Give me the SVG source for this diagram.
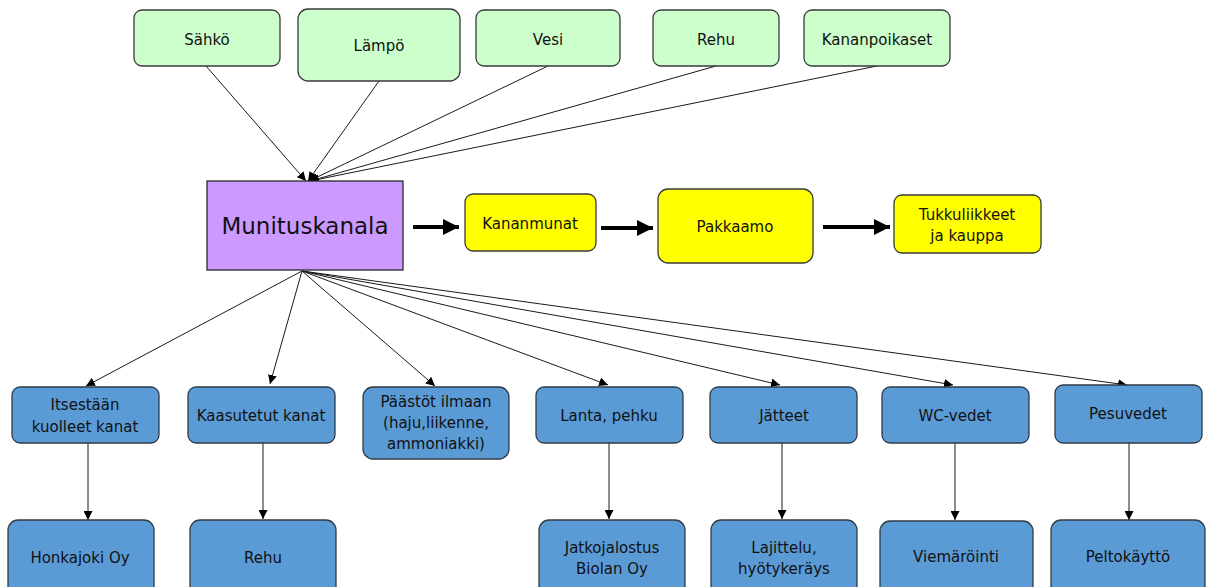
<svg xmlns="http://www.w3.org/2000/svg" width="1206" height="587" viewBox="0 0 1206 587">
<defs>
<style>
.g{fill:#ccffcc;stroke:#3a3a3a;stroke-width:1.3}
.y{fill:#ffff00;stroke:#3a3a3a;stroke-width:1.3}
.b{fill:#5b9bd5;stroke:#2f3b47;stroke-width:1.3}
.p{fill:#cc99ff;stroke:#2a2a2a;stroke-width:1.3}
text{font-family:"DejaVu Sans","Liberation Sans",sans-serif;font-size:15px;fill:#111;text-anchor:middle}
.big{font-size:23px}
.c{stroke:#1a1a1a;stroke-width:1;fill:none;marker-end:url(#ah)}
.t{stroke:#000;stroke-width:4;fill:none;marker-end:url(#ahb)}
</style>
<marker id="ah" viewBox="0 0 10 10" refX="10" refY="5" markerWidth="9" markerHeight="9" markerUnits="userSpaceOnUse" orient="auto"><path d="M0,0 L10,5 L0,10 z" fill="#000"/></marker>
<marker id="ahb" viewBox="0 0 10 10" refX="10" refY="5" markerWidth="4" markerHeight="4" orient="auto"><path d="M0,0 L10,5 L0,10 z" fill="#000"/></marker>
</defs>
<g id="connectors">
<line class="c" x1="206" y1="66" x2="306" y2="181"/>
<line class="c" x1="379" y1="81" x2="308" y2="181"/>
<line class="c" x1="548" y1="66" x2="309" y2="181"/>
<line class="c" x1="716" y1="66" x2="310" y2="181"/>
<line class="c" x1="877" y1="66" x2="310" y2="181"/>
<line class="t" x1="413" y1="227" x2="459" y2="227"/>
<line class="t" x1="601" y1="228" x2="653" y2="228"/>
<line class="t" x1="823" y1="227" x2="890" y2="227"/>
<line class="c" x1="302" y1="271" x2="86" y2="386"/>
<line class="c" x1="302" y1="271" x2="270" y2="384"/>
<line class="c" x1="302" y1="271" x2="435" y2="386"/>
<line class="c" x1="302" y1="271" x2="608" y2="385"/>
<line class="c" x1="302" y1="271" x2="780" y2="385"/>
<line class="c" x1="302" y1="271" x2="953" y2="385"/>
<line class="c" x1="302" y1="271" x2="1127" y2="385"/>
<line class="c" x1="88" y1="443" x2="88" y2="520"/>
<line class="c" x1="263" y1="443" x2="263" y2="519"/>
<line class="c" x1="609" y1="443" x2="609" y2="519"/>
<line class="c" x1="782" y1="443" x2="782" y2="519"/>
<line class="c" x1="955" y1="443" x2="955" y2="520"/>
<line class="c" x1="1129" y1="443" x2="1129" y2="520"/>
</g>
<g id="sahko"><rect class="g" x="134" y="10" width="146" height="56" rx="8"/><text x="207" y="45">Sähkö</text></g>
<g id="lampo"><rect class="g" x="298" y="9" width="162" height="72" rx="10"/><text x="379" y="51">Lämpö</text></g>
<g id="vesi"><rect class="g" x="476" y="10" width="144" height="56" rx="8"/><text x="548" y="45">Vesi</text></g>
<g id="rehu-in"><rect class="g" x="653" y="10" width="126" height="56" rx="8"/><text x="716" y="45">Rehu</text></g>
<g id="kananpoikaset"><rect class="g" x="804" y="10" width="146" height="56" rx="8"/><text x="877" y="45">Kananpoikaset</text></g>
<g id="munituskanala"><rect class="p" x="207" y="181" width="196" height="89"/><text class="big" x="305" y="234">Munituskanala</text></g>
<g id="kananmunat"><rect class="y" x="465" y="194" width="131" height="57" rx="8"/><text x="530" y="229">Kananmunat</text></g>
<g id="pakkaamo"><rect class="y" x="658" y="189" width="155" height="74" rx="10"/><text x="735" y="232">Pakkaamo</text></g>
<g id="tukku"><rect class="y" x="894" y="195" width="147" height="58" rx="8"/><text x="967" y="220">Tukkuliikkeet</text><text x="967" y="241">ja kauppa</text></g>
<g id="itsestaan"><rect class="b" x="12" y="387" width="147" height="56" rx="8"/><text x="85" y="410">Itsestään</text><text x="85" y="432">kuolleet kanat</text></g>
<g id="kaasutetut"><rect class="b" x="188" y="387" width="147" height="56" rx="8"/><text x="261" y="421">Kaasutetut kanat</text></g>
<g id="paastot"><rect class="b" x="363" y="387" width="146" height="72" rx="10"/><text x="436" y="407">Päästöt ilmaan</text><text x="436" y="428">(haju,liikenne,</text><text x="436" y="449">ammoniakki)</text></g>
<g id="lanta"><rect class="b" x="536" y="387" width="147" height="56" rx="8"/><text x="609" y="421">Lanta, pehku</text></g>
<g id="jatteet"><rect class="b" x="710" y="387" width="147" height="56" rx="8"/><text x="784" y="421">Jätteet</text></g>
<g id="wc"><rect class="b" x="882" y="387" width="147" height="56" rx="8"/><text x="955" y="421">WC-vedet</text></g>
<g id="pesuvedet"><rect class="b" x="1055" y="385" width="147" height="58" rx="8"/><text x="1128" y="419">Pesuvedet</text></g>
<g id="honkajoki"><rect class="b" x="8" y="520" width="146" height="80" rx="10"/><text x="80" y="563">Honkajoki Oy</text></g>
<g id="rehu-out"><rect class="b" x="190" y="520" width="146" height="80" rx="10"/><text x="263" y="563">Rehu</text></g>
<g id="jatkojalostus"><rect class="b" x="539" y="520" width="146" height="80" rx="10"/><text x="612" y="553">Jatkojalostus</text><text x="612" y="574">Biolan Oy</text></g>
<g id="lajittelu"><rect class="b" x="711" y="520" width="146" height="80" rx="10"/><text x="784" y="553">Lajittelu,</text><text x="784" y="574">hyötykeräys</text></g>
<g id="viemarointi"><rect class="b" x="880" y="521" width="153" height="80" rx="10"/><text x="956" y="562">Viemäröinti</text></g>
<g id="peltokaytto"><rect class="b" x="1051" y="520" width="154" height="80" rx="10"/><text x="1128" y="562">Peltokäyttö</text></g>
</svg>
